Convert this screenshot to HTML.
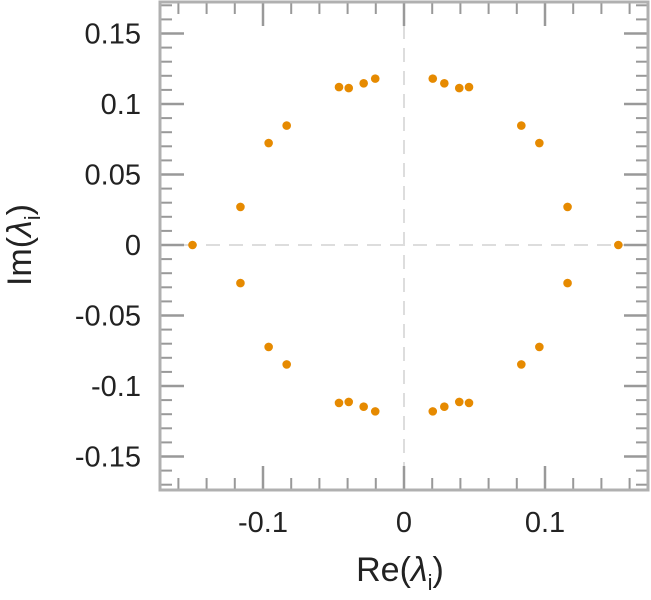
<!DOCTYPE html>
<html><head><meta charset="utf-8"><style>
html,body{margin:0;padding:0;background:#fff;}
svg{display:block;font-family:"Liberation Sans",sans-serif;}
</style></head><body>
<svg id="chart" width="651" height="600" viewBox="0 0 651 600" xmlns="http://www.w3.org/2000/svg">
<g id="grid"></g>
<g id="ticks"></g>
<g id="pts"></g>
<rect x="160" y="2" width="488" height="488" fill="none" stroke="#b0b0b0" stroke-width="3"/>
<g id="labels"></g>
<text x="400" y="581" text-anchor="middle" font-size="34" fill="#222">Re(<tspan font-style="italic">λ</tspan><tspan font-size="22" dy="9">i</tspan><tspan dy="-9">)</tspan></text>
<text transform="translate(31,245) rotate(-90)" text-anchor="middle" font-size="34" fill="#222">Im(<tspan font-style="italic">λ</tspan><tspan font-size="22" dy="9">i</tspan><tspan dy="-9">)</tspan></text>
</svg>
<script>
const reVals = [-0.150,-0.116,-0.096,-0.0832,-0.0461,-0.0392,-0.0286,-0.0204,0.0204,0.0286,0.0392,0.0461,0.0832,0.096,0.116,0.152];
const imVals = [0,0.027,0.0723,0.0847,0.112,0.1113,0.1147,0.118,0.118,0.1147,0.1113,0.112,0.0847,0.0723,0.027,0];
const xTickLabels = ["-0.1","0","0.1"];
const xTickValues = [-0.1,0,0.1];
const yTickLabels = ["0.15","0.1","0.05","0","-0.05","-0.1","-0.15"];
const yTickValues = [0.15,0.1,0.05,0,-0.05,-0.1,-0.15];

const NS="http://www.w3.org/2000/svg";
const X0=160,X1=648,Y0=2,Y1=490,cx=404,cy=245,k=1410;
const sx=v=>cx+v*k, sy=v=>cy-v*k;
function mk(tag,attrs,parent){const e=document.createElementNS(NS,tag);for(const a in attrs)e.setAttribute(a,attrs[a]);parent.appendChild(e);return e;}
const grid=document.getElementById('grid'),ticks=document.getElementById('ticks'),pts=document.getElementById('pts'),labels=document.getElementById('labels');
let l=mk('line',{x1:sx(0),x2:sx(0),y1:Y0,y2:Y1,stroke:'#ddd','stroke-width':2,'stroke-dasharray':'14,9'},grid);

l=mk('line',{x1:X0,x2:X1,y1:sy(0),y2:sy(0),stroke:'#ddd','stroke-width':2,'stroke-dasharray':'14,9'},grid);

for(let i=-8;i<=8;i++){const v=i*0.02;const x=sx(v);if(x<X0+2||x>X1-2)continue;const maj=i%5===0;const len=maj?24:12;
 let t=mk('line',{x1:x,x2:x,y1:Y1,y2:Y1-len,stroke:'#999','stroke-width':maj?2.5:2},ticks);
 t=mk('line',{x1:x,x2:x,y1:Y0,y2:Y0+len,stroke:'#999','stroke-width':maj?2.5:2},ticks);}
for(let i=-17;i<=17;i++){const v=i*0.01;const y=sy(v);if(y<Y0+2||y>Y1-2)continue;const maj=i%5===0;const len=maj?24:12;
 let t=mk('line',{x1:X0,x2:X0+len,y1:y,y2:y,stroke:'#999','stroke-width':maj?2.5:2},ticks);
 t=mk('line',{x1:X1,x2:X1-len,y1:y,y2:y,stroke:'#999','stroke-width':maj?2.5:2},ticks);}
xTickValues.forEach((v,i)=>{const t=mk('text',{x:sx(v),y:532,'text-anchor':'middle','font-size':29,fill:'#222'},labels);t.textContent=xTickLabels[i];
 });
yTickValues.forEach((v,i)=>{const t=mk('text',{x:141,y:sy(v)+10,'text-anchor':'end','font-size':29,fill:'#222'},labels);t.textContent=yTickLabels[i];
 });
reVals.forEach((re,i)=>{[imVals[i],-imVals[i]].forEach((im,j)=>{if(j===1&&imVals[i]===0)return;
 const c=mk('circle',{cx:sx(re),cy:sy(im),r:4.3,fill:'#e68a00'},pts);
 });});
</script>
</body></html>
